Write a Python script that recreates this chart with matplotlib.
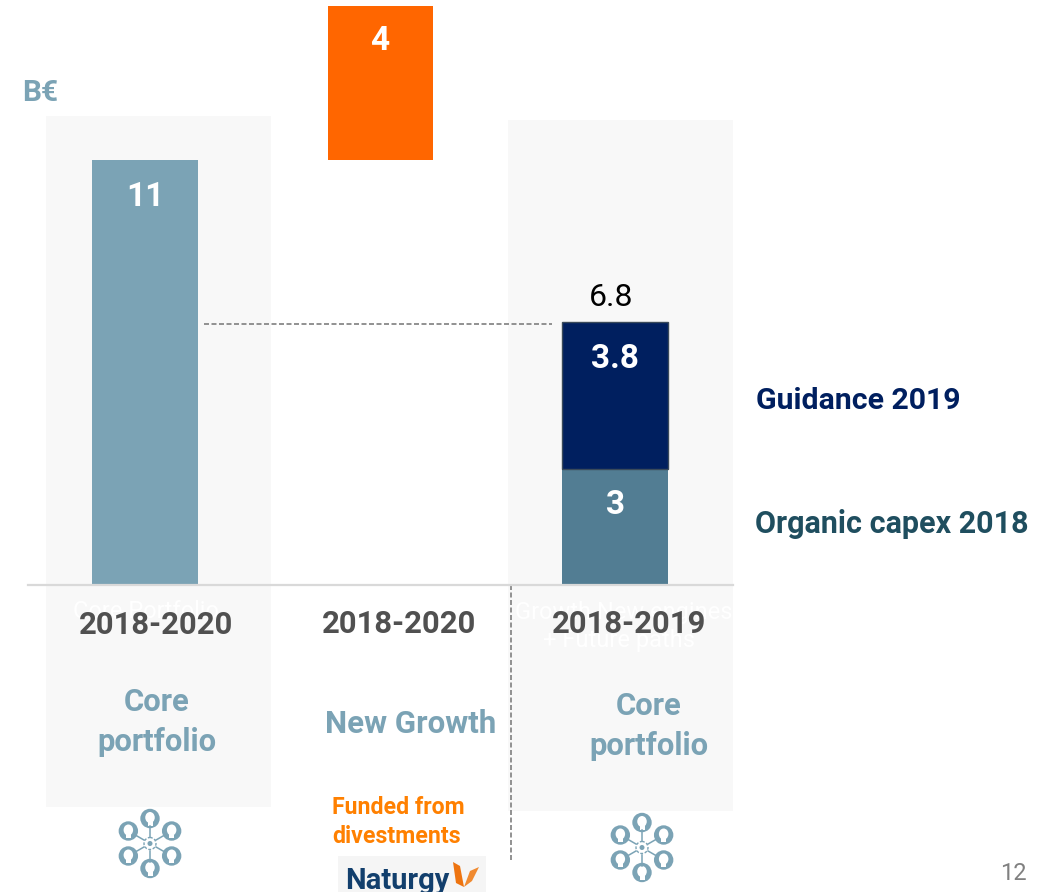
#!/usr/bin/env python
from __future__ import annotations

import matplotlib
matplotlib.use("Agg")
import matplotlib.pyplot as plt
from matplotlib.patches import Circle, Ellipse, Polygon, Rectangle
import numpy as np

# values in B€
core_2020 = [11]
new_growth = [4]
organic_2018 = [3]
guidance_2019 = [3.8]
total_2019 = 6.8
periods = ["2018-2020", "2018-2020", "2018-2019"]
groups = ["Core\nportfolio", "New Growth", "Core\nportfolio"]

W, H = 1056, 892
BASE_PX = 584.5
PX_PER_UNIT = 38.55

STEEL = "#7BA3B5"
DARK_STEEL = "#527D93"
NAVY = "#001F5F"
ORANGE = "#FF6600"
FONT = "Roboto"


def label(ax, x, y, s, size, color, weight="bold", **kw):
    kw.setdefault("ha", "center")
    kw.setdefault("va", "center")
    ax.text(x, y, s, fontsize=size, color=color, fontweight=weight, family=FONT, **kw)


def people_icon(ax, cx, cy):
    # hub with six spokes, each ending in a ring with a head inside
    for i in range(6):
        a = np.radians(90 + 60 * i)
        ca, sa = np.cos(a), np.sin(a)
        ax.plot([cx + 7 * ca, cx + 18 * ca], [cy - 7 * sa, cy - 18 * sa], color=STEEL, lw=1.1)
        rx, ry = cx + 25 * ca, cy - 25 * sa
        ax.add_patch(Circle((rx, ry), 9.7, fc=STEEL, ec="none"))
        ax.add_patch(Ellipse((rx, ry - 1), 9.5, 11, fc="white", ec="none"))
        ax.add_patch(Rectangle((rx - 2.5, ry + 2), 5, 5, fc="white", ec="none"))
    ax.add_patch(Circle((cx, cy), 6, fc="none", ec=STEEL, lw=1, ls=(0, (2, 1.2))))
    ax.add_patch(Circle((cx, cy), 2.5, fc=STEEL, ec="none"))


def main() -> None:
    fig = plt.figure(figsize=(W / 100, H / 100), dpi=100, facecolor="white")

    # overlay in pixel coordinates for panels and annotations
    px = fig.add_axes([0, 0, 1, 1])
    px.set_xlim(0, W)
    px.set_ylim(H, 0)
    px.axis("off")

    px.add_patch(Rectangle((46, 116), 225, 691, fc="#F8F8F8", ec="none", zorder=0))
    px.add_patch(Rectangle((508, 120), 225, 691, fc="#F8F8F8", ec="none", zorder=0))

    # bars share one value axis, baseline at 584.5 px
    ax = fig.add_axes([0, 0, 1, 1], facecolor="none")
    ax.set_xlim(0, W)
    ax.set_ylim((BASE_PX - H) / PX_PER_UNIT, BASE_PX / PX_PER_UNIT)
    ax.axis("off")

    ax.bar(145, core_2020, width=106, color=STEEL, zorder=2)
    ax.bar(380.5, new_growth, width=105, bottom=core_2020, color=ORANGE, zorder=2)
    ax.bar(615, organic_2018, width=106, color=DARK_STEEL, zorder=2)
    ax.bar(615, guidance_2019, width=106, bottom=organic_2018, color=NAVY,
           edgecolor="#3A4A5A", linewidth=1, zorder=2)

    px2 = fig.add_axes([0, 0, 1, 1], facecolor="none")
    px2.set_xlim(0, W)
    px2.set_ylim(H, 0)
    px2.axis("off")

    px2.plot([28, 733], [584.5, 584.5], color="#D9D9D9", lw=1.6, zorder=3)
    px2.plot([204, 552], [323.5, 323.5], color="#7F7F7F", lw=1.2, ls=(0, (3, 1.5)))
    px2.plot([511, 511], [585, 862], color="#7F7F7F", lw=1.2, ls=(0, (3, 1.5)))

    # bar value labels
    label(px2, 145, 197, f"{core_2020[0]}", 24, "white")
    label(px2, 380, 41, f"{new_growth[0]}", 24, "white")
    label(px2, 615.5, 359, f"{guidance_2019[0]}", 24, "white")
    label(px2, 615.5, 505, f"{organic_2018[0]}", 24, "white")
    label(px2, 611, 298, f"{total_2019}", 23, "black", weight="normal")

    label(px2, 40, 93, "B€", 21.5, STEEL)

    label(px2, 756, 401, "Guidance 2019", 21.8, NAVY, ha="left")
    label(px2, 755, 524, "Organic capex 2018", 22, "#1F4E5F", ha="left")

    # leftover white category text under the period labels
    label(px2, 146, 612, "Core Portfolio", 17, "white", weight="normal")
    label(px2, 624, 612, "Growth New engines", 17, "white", weight="normal")
    label(px2, 619, 641, "+ Future paths", 17, "white", weight="normal")

    for x, y, s in zip([156, 399, 629], [625, 624, 624], periods):
        label(px2, x, y, s, 22.3, "#505050")

    label(px2, 157, 722, groups[0], 22.3, STEEL, linespacing=1.45)
    label(px2, 411, 724, groups[1], 22.5, STEEL)
    label(px2, 649, 726, groups[2], 22.3, STEEL, linespacing=1.45)

    label(px2, 332, 822, "Funded from\ndivestments", 16.7, "#FF8000",
          ha="left", linespacing=1.3)

    people_icon(px2, 150, 843.5)
    people_icon(px2, 642, 847.5)

    # Naturgy logo
    px2.add_patch(Rectangle((338, 856), 148, 36, fc="#F5F5F5", ec="none"))
    label(px2, 345, 881, "Naturgy", 21, "#123F6D", ha="left")
    px2.add_patch(Polygon([(453, 862), (460, 866), (464, 887), (456, 883)], fc="#EE7410", ec="none"))
    px2.add_patch(Polygon([(479, 867), (470, 871), (464, 887), (472, 881)], fc="#F08A30", ec="none"))

    label(px2, 1013, 873, "12", 17, "#808080", weight="normal")

    fig.savefig("out.png", dpi=100)


if __name__ == "__main__":
    main()
